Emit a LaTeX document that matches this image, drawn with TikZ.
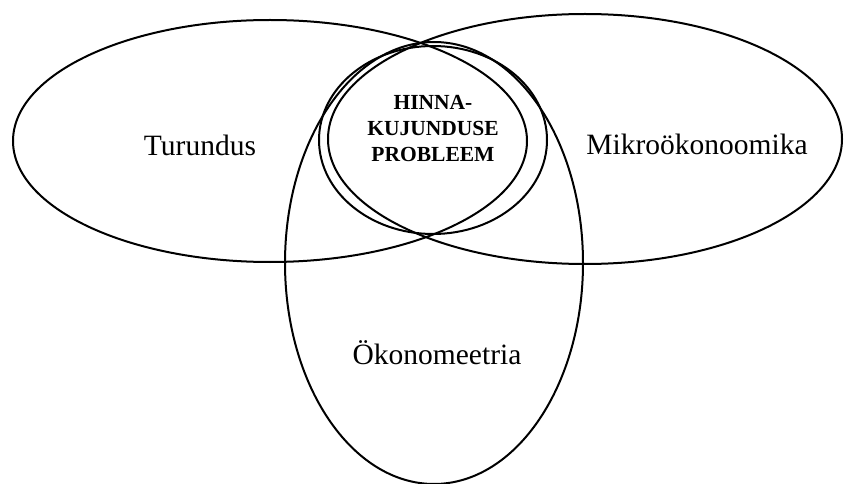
\documentclass[tikz,border=0pt]{standalone}
\usepackage{fontspec}
\setmainfont{Liberation Serif}
\usetikzlibrary{positioning}

\tikzset{
	ring/.style={line width=2pt, color=black},
	setname/.style={font=\fontsize{29.5}{35}\selectfont, anchor=base},
	corename/.style={font=\bfseries\fontsize{21.5}{26}\selectfont, align=center}
}

\begin{document}
\begin{tikzpicture}[x=1pt, y=-1pt]
		%%%%% START %%%%%
		\useasboundingbox (0, 0) rectangle (844, 484);
		
		\draw[ring] (270, 141) ellipse [x radius=257pt, y radius=121pt];
		\draw[ring] (585, 139) ellipse [x radius=257pt, y radius=125pt];
		\draw[ring] (434, 263) ellipse [x radius=149pt, y radius=221pt];
		\draw[ring] (433, 140) ellipse [x radius=114pt, y radius=94pt];
		
		\node[setname] (turundus) at (200, 156) {Turundus};
		\node[setname] (mikro) at (697, 155) {Mikroökonoomika};
		\node[setname] (oko) at (437, 364) {Ökonomeetria};
		
		\node[corename] (hinna) at (433, 129) {HINNA-\\KUJUNDUSE\\PROBLEEM};
		
		%%%%% END %%%%%
	\end{tikzpicture}
\end{document}
